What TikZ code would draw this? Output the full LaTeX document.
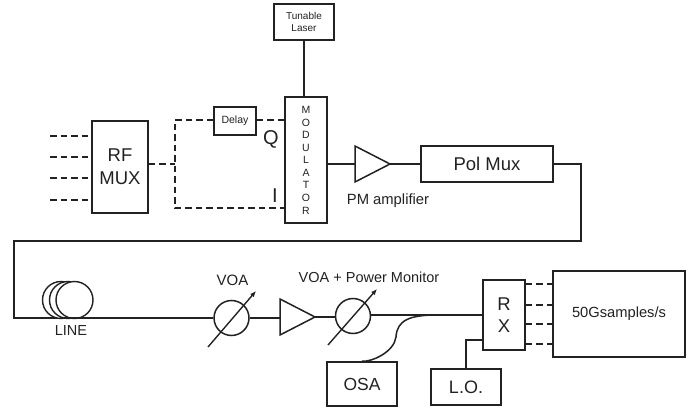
\documentclass[tikz,border=0pt]{standalone}
\usepackage{fontspec}
\setmainfont{Liberation Sans}
\usetikzlibrary{arrows.meta}
\definecolor{ink}{HTML}{222222}
\newcommand{\fs}[2]{\fontsize{#1}{#2}\selectfont}
\tikzset{
  wire/.style={draw=ink,line width=1.5pt},
  dashwire/.style={draw=ink,line width=1.5pt,dash pattern=on 6.5pt off 4pt},
  boxnode/.style={draw=ink,line width=1.5pt,fill=white,inner sep=0pt,align=center,text=ink},
  label/.style={inner sep=0pt,text=ink,align=center},
  attcircle/.style={circle,draw=ink,line width=1.5pt,minimum size=35pt,inner sep=0pt},
  adjust/.style={draw=ink,line width=1.4pt,-{Latex[length=6pt,width=5pt]}},
  spool/.style={circle,draw=ink,line width=1.4pt,fill=white,minimum size=37pt,inner sep=0pt},
  amp/.style={draw=ink,line width=1.5pt,fill=white,line join=miter}
}
\begin{document}
\begin{tikzpicture}[x=1pt,y=-1pt]
\useasboundingbox (0,0) rectangle (696,411);
% boxes
\node[boxnode,minimum width=60pt,minimum height=36pt,font=\fs{10}{12.5}] (laser) at (304,22) {Tunable\\Laser};
\node[boxnode,minimum width=42pt,minimum height=126pt] (mod) at (306,160) {};
\foreach \l [count=\i] in {M,O,D,U,L,A,T,O,R}
  \node[label,font=\fs{10.5}{12}] (m\i) at (306,110+12.55*\i-12.55) {\l};
\node[boxnode,minimum width=42pt,minimum height=28pt,font=\fs{10.5}{12}] (delay) at (235,121) {Delay};
\node[boxnode,minimum width=56pt,minimum height=92pt,font=\fs{18.5}{23}] (rfmux) at (120,167) {RF\\MUX};
\node[boxnode,minimum width=132pt,minimum height=36pt,font=\fs{18.5}{22}] (polmux) at (487,164) {Pol Mux};
\node[boxnode,minimum width=42pt,minimum height=70pt,font=\fs{18.5}{22}] (rx) at (504,315) {R\\X};
\node[boxnode,minimum width=132pt,minimum height=86pt,font=\fs{14.7}{17}] (adc) at (619,314) {50Gsamples/s};
\node[boxnode,minimum width=70pt,minimum height=36pt,font=\fs{18}{21}] (lo) at (466,387) {L.O.};
\node[boxnode,minimum width=70pt,minimum height=44pt,font=\fs{17.5}{21}] (osa) at (362,384) {OSA};
% labels
\node[label,font=\fs{20}{24}] (q) at (271,139) {Q};
\node[label,font=\fs{20}{24}] (i) at (275,196) {I};
\node[label,font=\fs{14.8}{17}] (pm) at (388,201) {PM amplifier};
\node[label,font=\fs{14.5}{17}] (line) at (71,331) {LINE};
\node[label,font=\fs{15}{17}] (voa) at (232.5,280) {VOA};
\node[label,font=\fs{14.5}{17}] (voapm) at (369,277) {VOA + Power Monitor};
% input coordinates
\coordinate (in1) at (50,136); \coordinate (in2) at (50,157);
\coordinate (in3) at (50,178); \coordinate (in4) at (50,200);
\draw[dashwire] (in1) -- (in1 -| rfmux.west);
\draw[dashwire] (in2) -- (in2 -| rfmux.west);
\draw[dashwire] (in3) -- (in3 -| rfmux.west);
\draw[dashwire] (in4) -- (in4 -| rfmux.west);
% IQ drive
\coordinate (split) at (175,164);
\coordinate (qrow) at (175,120);
\draw[dashwire] (rfmux.east |- split) -- (split);
\draw[dashwire] (delay.west |- qrow) -- (qrow) -- (175,208) -- (mod.west |- 0,208);
\draw[dashwire] (delay.east |- qrow) -- (mod.west |- qrow);
\draw[wire] (laser.south) -- (laser.south |- mod.north);
% amp 1
\coordinate (a1) at (390,164);
\draw[wire] (mod.east |- a1) -- (355,164);
\draw[amp] (355,146) -- (a1) -- (355,182) -- cycle;
\draw[wire] (a1) -- (a1 -| polmux.west);
% loop
\draw[wire] (polmux.east) -- (581,164) -- (581,241) -- (14,241) -- (14,318) -- (60,318);
% spool
\node[spool] (s1) at (61,300) {};
\node[spool] (s2) at (68,300) {};
\node[spool] (s3) at (74.5,300) {};
% VOA 1
\node[attcircle] (v1) at (231.5,318) {};
\draw[wire] (60,318) -- (v1.west);
\draw[adjust] (208,347) -- (256,291);
% amp 2
\coordinate (a2) at (315,317);
\draw[wire] (v1.east) -- (280,318);
\draw[amp] (280,299) -- (a2) -- (280,335) -- cycle;
% VOA 2
\node[attcircle] (v2) at (353,316) {};
\draw[wire] (a2) -- (335,317);
\draw[adjust] (328,345) -- (377,289);
\draw[wire] (v2.east |- rx.west) -- (rx.west);
% OSA tap
\coordinate (tap) at (437,315);
\draw[wire] (tap) .. controls (410,315) and (397,320) .. (396,337) .. controls (394,352) and (372,362) .. (osa.north);
% RX
\draw[wire] (lo.north) -- (466,340) -- (rx.west |- 0,340);
\foreach \y in {284,305,324,344}
  \draw[dashwire] (rx.east |- 0,\y) -- (adc.west |- 0,\y);
\end{tikzpicture}
\end{document}
